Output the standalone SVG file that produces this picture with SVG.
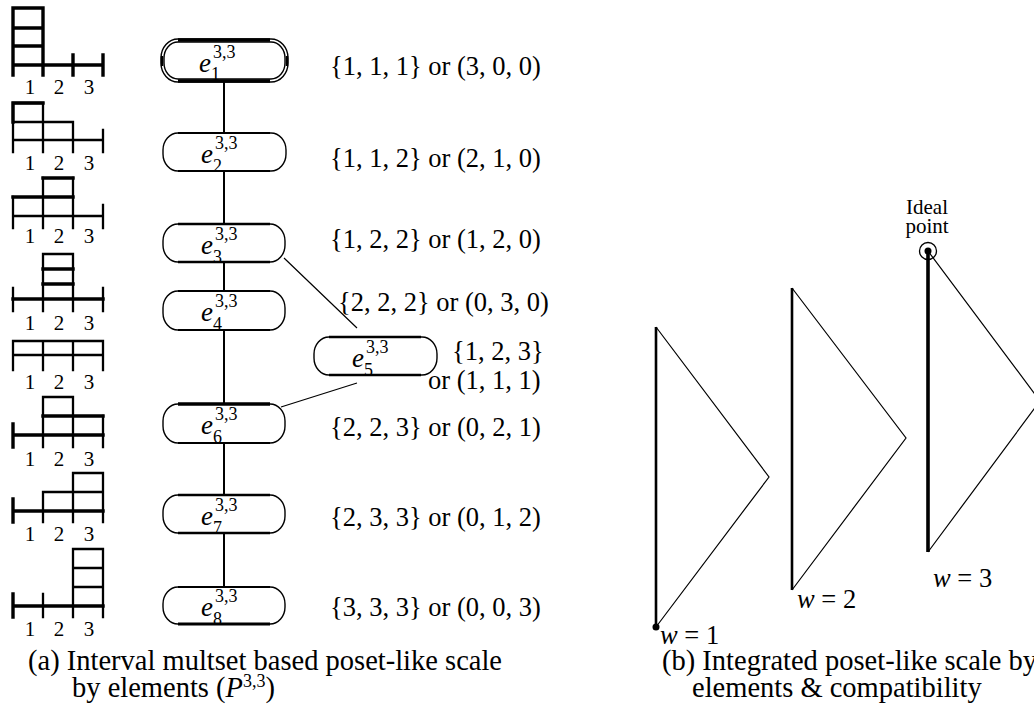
<svg xmlns="http://www.w3.org/2000/svg" width="1034" height="710" viewBox="0 0 1034 710">
<style>
text{font-family:"Liberation Serif","DejaVu Serif",serif;fill:#000}
.lbl{font-size:26.5px}
.ax{font-size:21px}
.cap{font-size:28.5px}
.e{font-size:27px;font-style:italic}
.sup{font-size:18px}
.g{stroke:#000;stroke-width:2.3;fill:none;stroke-linecap:square}
.gt{stroke:#000;stroke-width:3.4;fill:none;stroke-linecap:square}
.pill{fill:#fff;stroke:#000;stroke-width:1.4}
.edge{stroke:#000;stroke-width:2;fill:none}
.thin{stroke:#000;stroke-width:1.2;fill:none}
.thk{stroke:#000;fill:none}
</style>
<rect width="1034" height="710" fill="#fff"/>

<!-- bar charts -->
<g id="chart1">
<path class="gt" d="M13,8H43V75M13,8V75M13,28H43M13,46H43M13,65H103M73,55V75M103,55V75"/>
<text class="ax" x="30" y="94" text-anchor="middle">1</text><text class="ax" x="59" y="94" text-anchor="middle">2</text><text class="ax" x="89" y="94" text-anchor="middle">3</text>
</g>
<g id="chart2">
<path class="g" d="M13,103H43V152M13,103V152M13,122H73V152M13,140H103M103,130V152"/>
<path class="gt" d="M13,103H43M13,103V122"/>
<text class="ax" x="30" y="170" text-anchor="middle">1</text><text class="ax" x="59" y="170" text-anchor="middle">2</text><text class="ax" x="89" y="170" text-anchor="middle">3</text>
</g>
<g id="chart3">
<path class="g" d="M13,197V228M43,178V228M73,178V228M13,216H103M103,205V228"/>
<path class="gt" d="M13,197H73M43,178H73"/>
<text class="ax" x="30" y="243" text-anchor="middle">1</text><text class="ax" x="59" y="243" text-anchor="middle">2</text><text class="ax" x="89" y="243" text-anchor="middle">3</text>
</g>
<g id="chart4">
<path class="g" d="M43,254H73M13,288V311M43,254V311M73,254V311M103,288V311"/>
<path class="gt" d="M43,269H73M43,284H73M13,299H103"/>
<text class="ax" x="30" y="330" text-anchor="middle">1</text><text class="ax" x="59" y="330" text-anchor="middle">2</text><text class="ax" x="89" y="330" text-anchor="middle">3</text>
</g>
<g id="chart5">
<path class="g" d="M13,341H103M13,355H103M13,341V370M43,341V370M73,341V370M103,341V370"/>
<text class="ax" x="30" y="389" text-anchor="middle">1</text><text class="ax" x="59" y="389" text-anchor="middle">2</text><text class="ax" x="89" y="389" text-anchor="middle">3</text>
</g>
<g id="chart6">
<path class="g" d="M43,397H73M43,397V447M73,397V447M103,416V447"/>
<path class="gt" d="M43,416H103M13,435H103M13,424V447"/>
<text class="ax" x="30" y="466" text-anchor="middle">1</text><text class="ax" x="59" y="466" text-anchor="middle">2</text><text class="ax" x="89" y="466" text-anchor="middle">3</text>
</g>
<g id="chart7">
<path class="g" d="M73,473H103M43,492H103M43,492V522M73,473V522M103,473V522"/>
<path class="gt" d="M13,511H103M13,499V522"/>
<text class="ax" x="30" y="541" text-anchor="middle">1</text><text class="ax" x="59" y="541" text-anchor="middle">2</text><text class="ax" x="89" y="541" text-anchor="middle">3</text>
</g>
<g id="chart8">
<path class="g" d="M73,549H103M73,568H103M73,587H103M43,594V617M73,549V617M103,549V617"/>
<path class="gt" d="M13,606H103M13,594V617"/>
<text class="ax" x="30" y="636" text-anchor="middle">1</text><text class="ax" x="59" y="636" text-anchor="middle">2</text><text class="ax" x="89" y="636" text-anchor="middle">3</text>
</g>

<!-- connectors -->
<g id="connectors">
<path class="edge" d="M224,82V133M224,171V224M224,262V291M224,330V404M224,443V495M224,533V587"/>
<path class="thin" d="M284,258L357,328M281,407L357,383"/>
</g>

<!-- nodes -->
<g id="e1">
<rect class="pill" x="161" y="39" width="127" height="43" rx="17" ry="19"/>
<rect class="pill" x="164" y="42" width="121" height="37" rx="14" ry="16"/>
<path class="thk" stroke-width="3.5" d="M178,40H270M178,81H270"/>
<path class="thk" stroke-width="2.5" d="M162,56V66M287,56V66"/>
<text class="e" x="199" y="72">e</text><text class="sup" x="213" y="58">3,3</text><text class="sup" x="211" y="80">1</text>
</g>
<g id="e2">
<rect class="pill" x="163" y="133" width="123" height="38" rx="15" ry="17"/>
<path class="thk" stroke-width="2.2" d="M178,133H270M178,171H270"/>
<text class="e" x="201" y="163">e</text><text class="sup" x="215" y="149">3,3</text><text class="sup" x="213" y="172">2</text>
</g>
<g id="e3">
<rect class="pill" x="163" y="224" width="122" height="38" rx="15" ry="17"/>
<path class="thk" stroke-width="2.6" d="M178,224H270M178,262H270"/>
<text class="e" x="201" y="254">e</text><text class="sup" x="215" y="240">3,3</text><text class="sup" x="213" y="263">3</text>
</g>
<g id="e4">
<rect class="pill" x="163" y="291" width="122" height="39" rx="15" ry="17"/>
<path class="thk" stroke-width="2" d="M178,291H270M178,330H270"/>
<text class="e" x="201" y="321">e</text><text class="sup" x="215" y="307">3,3</text><text class="sup" x="213" y="330">4</text>
</g>
<g id="e5">
<rect class="pill" x="314" y="337" width="123" height="38" rx="15" ry="17"/>
<path class="thk" stroke-width="2.6" d="M329,337H421M329,375H421"/>
<text class="e" x="352" y="367">e</text><text class="sup" x="366" y="353">3,3</text><text class="sup" x="364" y="376">5</text>
</g>
<g id="e6">
<rect class="pill" x="163" y="404" width="122" height="39" rx="15" ry="17"/>
<path class="thk" stroke-width="3.5" d="M178,404H270"/>
<path class="thk" stroke-width="2" d="M178,443H270"/>
<text class="e" x="201" y="434">e</text><text class="sup" x="215" y="420">3,3</text><text class="sup" x="213" y="443">6</text>
</g>
<g id="e7">
<rect class="pill" x="163" y="495" width="122" height="38" rx="15" ry="17"/>
<path class="thk" stroke-width="2.6" d="M178,495H270M178,533H270"/>
<text class="e" x="201" y="525">e</text><text class="sup" x="215" y="511">3,3</text><text class="sup" x="213" y="534">7</text>
</g>
<g id="e8">
<rect class="pill" x="163" y="587" width="122" height="37" rx="15" ry="17"/>
<path class="thk" stroke-width="1.8" d="M178,587H270"/>
<path class="thk" stroke-width="3.2" d="M178,624H270"/>
<text class="e" x="201" y="616">e</text><text class="sup" x="215" y="602">3,3</text><text class="sup" x="213" y="625">8</text>
</g>

<!-- labels -->
<g id="labels">
<text class="lbl" x="330" y="75">{1, 1, 1} or (3, 0, 0)</text>
<text class="lbl" x="330" y="167">{1, 1, 2} or (2, 1, 0)</text>
<text class="lbl" x="330" y="248">{1, 2, 2} or (1, 2, 0)</text>
<text class="lbl" x="338" y="311">{2, 2, 2} or (0, 3, 0)</text>
<text class="lbl" x="452" y="360">{1, 2, 3}</text>
<text class="lbl" x="428" y="389">or (1, 1, 1)</text>
<text class="lbl" x="330" y="436">{2, 2, 3} or (0, 2, 1)</text>
<text class="lbl" x="330" y="526">{2, 3, 3} or (0, 1, 2)</text>
<text class="lbl" x="330" y="616">{3, 3, 3} or (0, 0, 3)</text>
</g>

<!-- right panel -->
<g id="w1">
<path class="thin" d="M656,327L769,477L656,627"/>
<path class="thk" stroke-width="2.6" d="M656,327V627"/>
<circle cx="656" cy="627" r="3.5" fill="#000"/>
<text class="lbl" x="660" y="644"><tspan font-style="italic">w</tspan> = 1</text>
</g>
<g id="w2">
<path class="thin" d="M792,288L906,438L792,590"/>
<path class="thk" stroke-width="2.6" d="M792,288V590"/>
<text class="lbl" x="797" y="608"><tspan font-style="italic">w</tspan> = 2</text>
</g>
<g id="w3">
<path class="thin" d="M928,251L1040,401L928,552"/>
<path class="thk" stroke-width="3.6" d="M928,251V552"/>
<circle cx="928" cy="251" r="8.5" fill="none" stroke="#000" stroke-width="1.3"/>
<circle cx="928" cy="251" r="3.5" fill="#000"/>
<text class="lbl" x="933" y="587"><tspan font-style="italic">w</tspan> = 3</text>
</g>
<g id="ideal">
<text x="927" y="214" text-anchor="middle" font-size="21">Ideal</text>
<text x="927" y="233" text-anchor="middle" font-size="21">point</text>
</g>

<!-- captions -->
<g id="captions">
<text class="cap" x="28" y="670">(a) Interval multset based poset-like scale</text>
<text class="cap" x="72" y="697">by elements (<tspan font-style="italic">P</tspan><tspan font-size="18" dy="-10">3,3</tspan><tspan dy="10">)</tspan></text>
<text class="cap" x="662" y="670">(b) Integrated poset-like scale by</text>
<text class="cap" x="692" y="697">elements &amp; compatibility</text>
</g>
</svg>
